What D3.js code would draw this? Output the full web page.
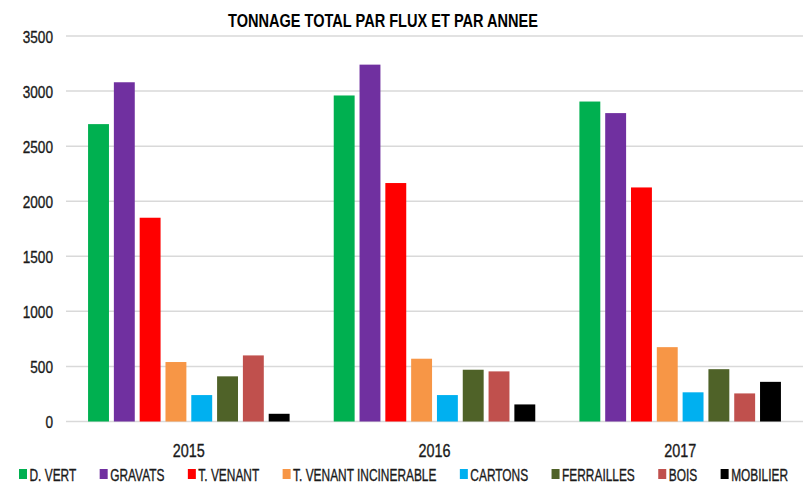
<!DOCTYPE html>
<html>
<head>
<meta charset="utf-8">
<script src="https://cdn.jsdelivr.net/npm/d3@7"></script>
<style>
  body { margin: 0; background: #fff; }
  text { font-family: "Liberation Sans", Arial, sans-serif; }
</style>
</head>
<body>
<svg width="810" height="482"></svg>
<script>
var years = ['2015', '2016', '2017'];
var flux = ['D. VERT', 'GRAVATS', 'T. VENANT', 'T. VENANT INCINERABLE', 'CARTONS', 'FERRAILLES', 'BOIS', 'MOBILIER'];
var colors = ['#00B050', '#7030A0', '#FF0000', '#F79646', '#00B0F0', '#4F6228', '#C0504D', '#000000'];
var values2015 = [2700, 3080, 1850, 540, 240, 410, 600, 70];
var values2016 = [2960, 3240, 2165, 570, 240, 470, 455, 155];
var values2017 = [2905, 2800, 2125, 675, 265, 475, 255, 360];
var yTicks = [0, 500, 1000, 1500, 2000, 2500, 3000, 3500];

var valuesByYear = [values2015, values2016, values2017];

var svg = d3.select('svg'),
  plotLeft = 66,
  plotRight = 803,
  plotTop = 36,
  plotBottom = 421.5;

var x0 = d3.scaleBand().domain(years).range([plotLeft, plotRight]).padding(0);
var x1 = d3.scaleBand().domain(flux).range([0, x0.bandwidth()]).paddingInner(0.19).paddingOuter(0.855);
var y = d3.scaleLinear().domain([0, 3500]).range([plotBottom, plotTop]);
var color = d3.scaleOrdinal().domain(flux).range(colors);

// squeeze a text horizontally so it looks like a narrow font
function narrow(sel, factor) {
  sel.each(function () {
    var w = this.getComputedTextLength();
    d3.select(this)
      .attr('textLength', w * factor)
      .attr('lengthAdjust', 'spacingAndGlyphs');
  });
}

// gridlines
svg.append('g')
  .selectAll('line')
  .data(yTicks)
  .enter()
  .append('line')
  .attr('x1', plotLeft)
  .attr('x2', plotRight)
  .attr('y1', (d) => y(d))
  .attr('y2', (d) => y(d))
  .attr('stroke', '#d9d9d9')
  .attr('stroke-width', 1.5);

// y axis labels
var yAxis = svg.append('g')
  .attr('transform', 'translate(' + (plotLeft - 13) + ',0)')
  .call(d3.axisLeft(y).tickValues(yTicks).tickFormat(d3.format('d')).tickSize(0).tickPadding(0));
yAxis.select('.domain').remove();
yAxis.selectAll('text')
  .attr('font-family', null)
  .style('font-size', '17px')
  .attr('fill', '#1a1a1a')
  .attr('stroke', '#1a1a1a')
  .attr('stroke-width', 0.35)
  .attr('dy', '0.36em')
  .call(narrow, 0.8);

// bars
var groups = svg.append('g')
  .selectAll('g')
  .data(years)
  .enter()
  .append('g')
  .attr('transform', (d) => 'translate(' + x0(d) + ',0)');

groups.selectAll('rect')
  .data((d, i) => flux.map((f, j) => ({ key: f, value: valuesByYear[i][j] })))
  .enter()
  .append('rect')
  .attr('x', (d) => x1(d.key))
  .attr('width', x1.bandwidth())
  .attr('y', (d) => y(d.value))
  .attr('height', (d) => y(0) - y(d.value))
  .attr('fill', (d) => color(d.key));

// x axis labels
var xAxis = svg.append('g')
  .attr('transform', 'translate(0,' + (plotBottom + 23) + ')')
  .call(d3.axisBottom(x0).tickSize(0).tickPadding(0));
xAxis.select('.domain').remove();
xAxis.selectAll('text')
  .attr('font-family', null)
  .style('font-size', '18px')
  .attr('fill', '#1a1a1a')
  .attr('stroke', '#1a1a1a')
  .attr('stroke-width', 0.35)
  .call(narrow, 0.8);

// title
svg.append('text')
  .attr('x', 383)
  .attr('y', 27)
  .attr('text-anchor', 'middle')
  .style('font-size', '19px')
  .style('font-weight', 'bold')
  .attr('fill', '#000')
  .attr('textLength', 310)
  .attr('lengthAdjust', 'spacingAndGlyphs')
  .text('TONNAGE TOTAL PAR FLUX ET PAR ANNEE');

// legend, spread between 19 and 788
var items = svg.append('g')
  .selectAll('g')
  .data(flux)
  .enter()
  .append('g');

items.append('rect')
  .attr('width', 8)
  .attr('height', 10)
  .attr('y', 469)
  .attr('fill', (d) => color(d));

items.append('text')
  .attr('x', 10.5)
  .attr('y', 481)
  .style('font-size', '17px')
  .attr('fill', '#1a1a1a')
  .attr('stroke', '#1a1a1a')
  .attr('stroke-width', 0.35)
  .text((d) => d)
  .call(narrow, 0.7);

var widths = [];
items.select('text').each(function () {
  widths.push(10.5 + +this.getAttribute('textLength'));
});
var gap = (788 - 19 - d3.sum(widths)) / (flux.length - 1);
var pos = 19;
items.attr('transform', function (d, i) {
  var t = 'translate(' + pos + ',0)';
  pos += widths[i] + gap;
  return t;
});
</script>
</body>
</html>
